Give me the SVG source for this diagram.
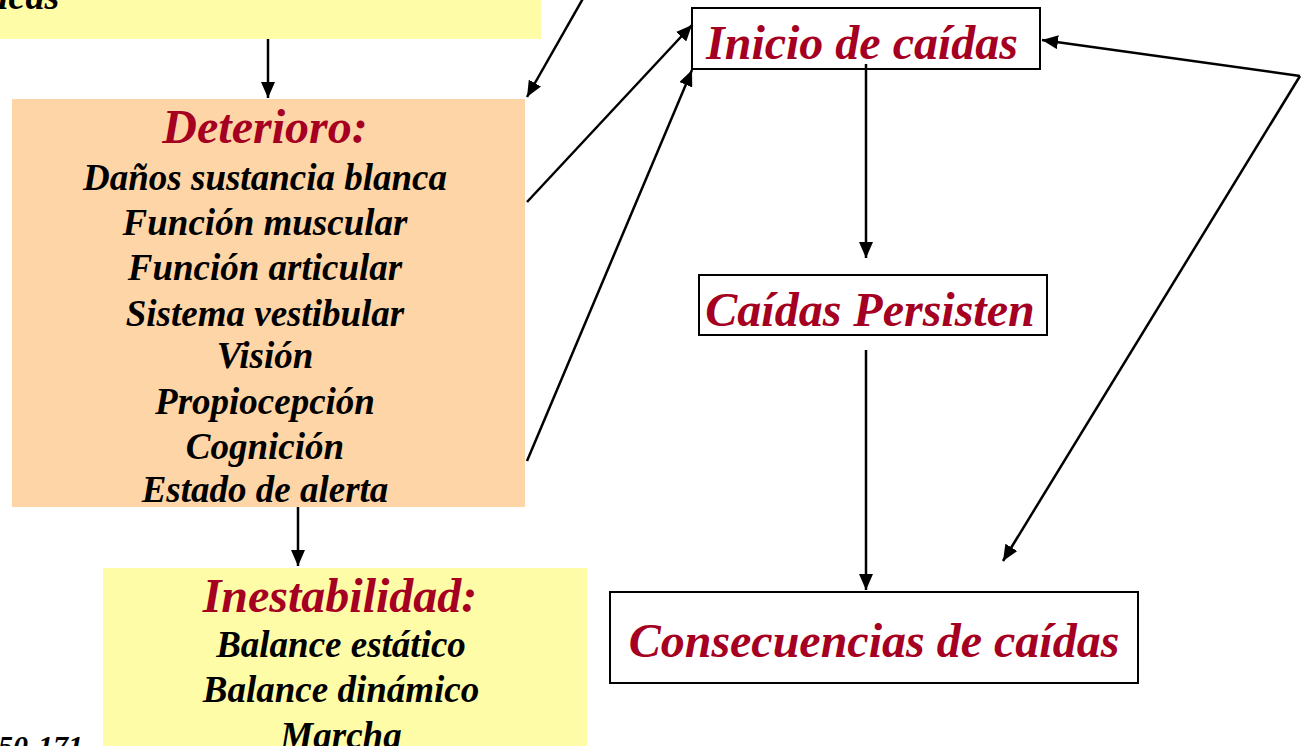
<svg xmlns="http://www.w3.org/2000/svg" width="1302" height="746" viewBox="0 0 1302 746">
<defs>
<marker id="ah" markerWidth="16" markerHeight="14" viewBox="0 0 16 14" refX="16" refY="7" orient="auto" markerUnits="userSpaceOnUse">
<path d="M0,0 L16,7 L0,14 Z" fill="#000"/>
</marker>
<style>
.t{font-family:"Liberation Serif","Times New Roman",serif;font-weight:bold;font-style:italic;text-anchor:middle}
.h{fill:#A50021;font-size:48px}
.b{fill:#000;font-size:37px}
.box{fill:#fff;stroke:#000;stroke-width:2}
.c{stroke:#000;stroke-width:2.5;fill:none;marker-end:url(#ah)}
</style>
</defs>
<rect width="1302" height="746" fill="#fff"/>
<g id="top-box">
<rect x="0" y="0" width="541" height="39" fill="#FFFCA8"/>
<text x="-2" y="9" class="t b" style="text-anchor:start;font-size:38px">icas</text>
</g>
<g id="deterioro">
<rect x="12" y="99" width="513" height="408" fill="#FED5A6"/>
<text x="265" y="143" class="t h">Deterioro:</text>
<text x="265" y="190" class="t b">Daños sustancia blanca</text>
<text x="265" y="235" class="t b">Función muscular</text>
<text x="265" y="280" class="t b">Función articular</text>
<text x="265" y="326" class="t b">Sistema vestibular</text>
<text x="265" y="368" class="t b">Visión</text>
<text x="265" y="414" class="t b">Propiocepción</text>
<text x="265" y="459" class="t b">Cognición</text>
<text x="265" y="502" class="t b">Estado de alerta</text>
</g>
<g id="inestabilidad">
<rect x="103" y="568" width="484" height="180" fill="#FFFCA8"/>
<text x="340" y="612" class="t h">Inestabilidad:</text>
<text x="341" y="657" class="t b">Balance estático</text>
<text x="341" y="702" class="t b">Balance dinámico</text>
<text x="341" y="748" class="t b">Marcha</text>
</g>
<g id="ref">
<text x="-2" y="756" class="t b" style="text-anchor:start;font-size:30px">50-171</text>
</g>
<g id="inicio">
<rect x="692" y="8" width="348" height="61" class="box"/>
<text x="862" y="59" class="t h">Inicio de caídas</text>
</g>
<g id="persisten">
<rect x="699" y="275" width="348" height="60" class="box"/>
<text x="870" y="326" class="t h">Caídas Persisten</text>
</g>
<g id="consecuencias">
<rect x="610" y="592" width="528" height="91" class="box"/>
<text x="874" y="657" class="t h">Consecuencias de caídas</text>
</g>
<g id="connectors">
<line x1="268" y1="39" x2="268" y2="98" class="c"/>
<line x1="585" y1="-5" x2="527" y2="97" class="c"/>
<line x1="527" y1="202" x2="692" y2="25" class="c"/>
<line x1="527" y1="461" x2="692" y2="70" class="c"/>
<line x1="298" y1="507" x2="298" y2="566" class="c"/>
<line x1="866" y1="64" x2="866" y2="258" class="c"/>
<line x1="866" y1="350" x2="866" y2="590" class="c"/>
<line x1="1300" y1="76" x2="1042" y2="40" class="c"/>
<line x1="1300" y1="76" x2="1003" y2="561" class="c"/>
</g>
</svg>
